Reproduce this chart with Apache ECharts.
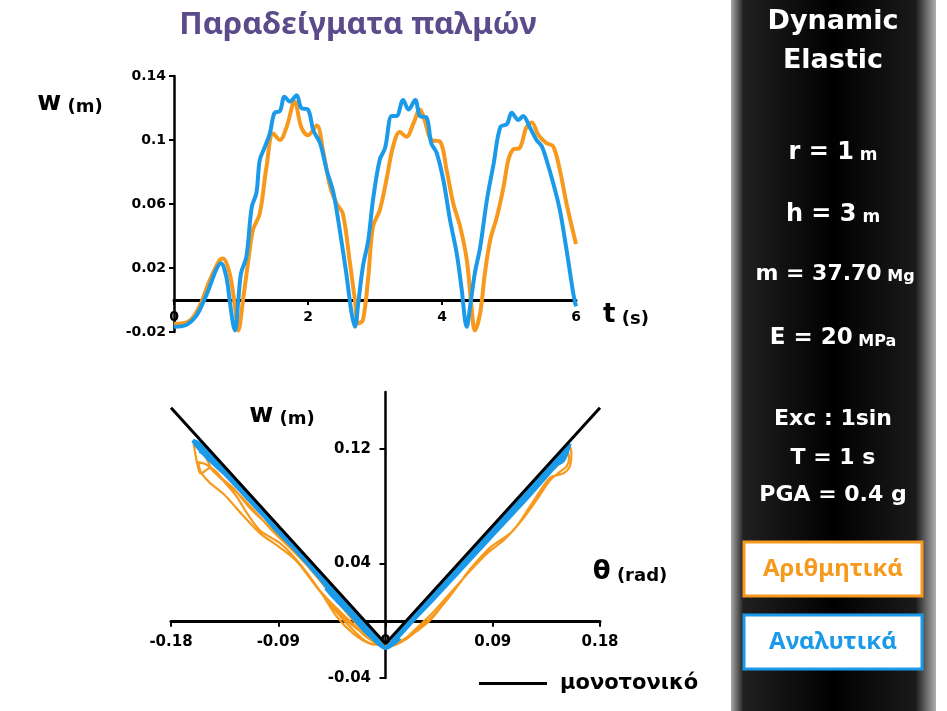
<!DOCTYPE html>
<html>
<head>
<meta charset="utf-8">
<script src="https://cdn.jsdelivr.net/npm/echarts@6/dist/echarts.min.js"></script>
<style>
html,body{margin:0;padding:0;background:#fff;}
#chart{width:947px;height:711px;}
</style>
</head>
<body>
<div id="chart"></div>
<script>
// ---- Top chart: w(t) ----
var tTopOrange = [0,0.23,0.38,0.53,0.68,0.73,0.83,0.91,0.96,1.03,1.11,1.18,1.28,1.38,1.48,1.58,1.68,1.80,1.90,2.0,2.13,2.23,2.33,2.43,2.52,2.62,2.70,2.75,2.82,2.90,2.97,3.07,3.17,3.27,3.37,3.47,3.57,3.67,3.74,3.84,3.97,4.07,4.17,4.27,4.37,4.44,4.49,4.57,4.64,4.72,4.82,4.92,4.99,5.06,5.16,5.26,5.34,5.44,5.56,5.66,5.76,5.86,6.0];
var wTopOrange = [-0.015,-0.013,-0.004,0.012,0.025,0.026,0.0167,-0.004,-0.019,0,0.025,0.044,0.054,0.083,0.104,0.10,0.108,0.124,0.108,0.103,0.109,0.092,0.071,0.060,0.054,0.025,0,-0.0146,-0.0125,0.0146,0.046,0.056,0.075,0.096,0.105,0.102,0.110,0.119,0.1125,0.10,0.099,0.081,0.060,0.046,0.025,-0.004,-0.019,-0.008,0.0167,0.0375,0.052,0.071,0.0875,0.094,0.095,0.108,0.111,0.103,0.098,0.096,0.081,0.060,0.035];
var tTopBlue = [0,0.18,0.33,0.43,0.53,0.63,0.70,0.78,0.83,0.88,0.91,0.96,1.0,1.08,1.16,1.23,1.28,1.35,1.43,1.50,1.58,1.65,1.73,1.83,1.90,2.0,2.08,2.18,2.28,2.38,2.48,2.57,2.65,2.70,2.75,2.82,2.90,2.97,3.07,3.15,3.25,3.32,3.42,3.50,3.60,3.67,3.77,3.84,3.92,4.02,4.12,4.22,4.29,4.37,4.42,4.49,4.57,4.67,4.77,4.87,4.97,5.04,5.14,5.21,5.31,5.41,5.49,5.56,5.66,5.76,5.86,5.96,6.0];
var wTopBlue = [-0.0167,-0.0156,-0.010,-0.002,0.008,0.019,0.023,0.0146,0,-0.0146,-0.019,0,0.0167,0.027,0.058,0.067,0.0875,0.095,0.104,0.117,0.118,0.127,0.124,0.128,0.120,0.119,0.106,0.098,0.081,0.067,0.042,0.017,-0.008,-0.0167,-0.002,0.021,0.0375,0.0625,0.0875,0.095,0.115,0.115,0.125,0.119,0.125,0.115,0.114,0.098,0.092,0.075,0.05,0.029,0.008,-0.0167,-0.004,0.0167,0.033,0.0625,0.085,0.108,0.11,0.117,0.1125,0.115,0.108,0.10,0.096,0.0875,0.073,0.056,0.031,0.004,-0.004];

// ---- Bottom chart: w(theta) ----
var thOrange = [0,-0.02,-0.04,-0.05,-0.055,-0.045,-0.03,-0.015,0,
 0.015,0.025,0.037,0.051,0.062,0.071,0.0875,0.107,0.121,0.132,0.139,0.149,0.1545,0.156,0.154,
 0.146,0.13,0.115,0.10,0.085,0.07,0.055,0.04,0.025,0.012,0,
 -0.013,-0.027,-0.041,-0.055,-0.072,-0.088,-0.105,-0.116,-0.125,-0.133,-0.147,-0.155,-0.158,-0.161,
 -0.152,-0.145,-0.138,-0.128,-0.115,-0.10,-0.085,-0.07,-0.055,-0.04,-0.025,-0.012,0,
 0.013,0.025,0.04,0.055,0.07,0.085,0.10,0.115,0.128,0.138,0.146,0.152,0.154,0.152,
 0.142,0.128,0.112,0.095,0.08,0.065,0.05,0.035,0.02,0.008,0,
 -0.015,-0.03,-0.045,-0.06,-0.075,-0.09,-0.105,-0.12,-0.135,-0.148,-0.155,-0.157,
 -0.150,-0.14,-0.125,-0.11,-0.095,-0.08,-0.065,-0.05,-0.035,-0.02,-0.008,0,
 0.013,0.025,0.037,0.05,0.062];
var wOrange = [-0.016,-0.008,0.006,0.016,0.021,0.012,0.0,-0.012,-0.018,
 -0.014,-0.008,0.0,0.0143,0.026,0.036,0.051,0.063,0.0796,0.0936,0.1006,0.103,0.1076,0.117,0.123,
 0.110,0.099,0.085,0.070,0.058,0.046,0.030,0.015,0.002,-0.010,-0.017,
 -0.016,-0.009,0.003,0.021,0.040,0.054,0.063,0.075,0.087,0.095,0.107,0.103,0.110,0.124,
 0.116,0.105,0.100,0.093,0.080,0.068,0.057,0.045,0.030,0.014,0.000,-0.011,-0.018,
 -0.015,-0.006,0.006,0.020,0.034,0.047,0.057,0.071,0.086,0.098,0.104,0.108,0.114,0.119,
 0.110,0.097,0.083,0.067,0.054,0.040,0.026,0.011,-0.003,-0.013,-0.017,
 -0.015,-0.004,0.010,0.026,0.042,0.052,0.061,0.074,0.088,0.097,0.104,0.111,
 0.109,0.101,0.090,0.077,0.063,0.051,0.038,0.023,0.008,-0.006,-0.014,-0.017,
 -0.014,-0.007,0.001,0.013,0.026];
var thBlue = [0,-0.015,-0.03,-0.045,-0.05,-0.04,-0.025,-0.01,0,
 0.012,0.025,0.04,0.06,0.08,0.10,0.12,0.14,0.15,0.1545,
 0.149,0.14,0.12,0.10,0.08,0.06,0.04,0.02,0.008,0,
 -0.012,-0.025,-0.04,-0.055,-0.07,-0.09,-0.11,-0.13,-0.147,-0.158,-0.1615,
 -0.155,-0.14,-0.12,-0.10,-0.08,-0.06,-0.04,-0.02,-0.008,0,
 0.013,0.03,0.05,0.07,0.09,0.11,0.13,0.145,0.152,
 0.14,0.12,0.10,0.08,0.06,0.04,0.02,0,
 -0.015,-0.035,-0.055,-0.075,-0.095,-0.115,-0.135,-0.15,-0.156,
 -0.145,-0.125,-0.105,-0.085,-0.065,-0.045,-0.025,-0.01,0,
 0.012];
var wBlue = [-0.019,-0.009,0.005,0.018,0.023,0.015,0.001,-0.012,-0.019,
 -0.010,0.002,0.015,0.033,0.051,0.069,0.087,0.106,0.116,0.124,
 0.112,0.108,0.090,0.072,0.054,0.036,0.018,0.000,-0.012,-0.019,
 -0.011,0.001,0.014,0.030,0.045,0.062,0.081,0.099,0.112,0.122,0.126,
 0.123,0.110,0.092,0.073,0.056,0.038,0.018,0.000,-0.012,-0.019,
 -0.009,0.007,0.026,0.044,0.062,0.080,0.099,0.112,0.120,
 0.110,0.091,0.073,0.055,0.037,0.018,0.001,-0.019,
 -0.008,0.011,0.030,0.049,0.067,0.085,0.103,0.115,0.119,
 0.113,0.096,0.078,0.060,0.042,0.023,0.004,-0.011,-0.019,
 -0.012];
var thMono = [-0.18,0,0.18];
var wMono = [0.149,-0.016,0.149];

// ticks / labels
var topXTicks = {min:0,max:6,interval:2};
var topYTicks = {min:-0.02,max:0.14,interval:0.04};
var botXTicks = {min:-0.18,max:0.18,interval:0.09};
var botYTicks = {min:-0.04,max:0.16,interval:0.08};
var botYTickValues = [-0.04,0.04,0.12];

function zip(a,b){var r=[];for(var i=0;i<Math.min(a.length,b.length);i++){r.push([a[i],b[i]]);}return r;}

var ORANGE='#F7991C', BLUE='#1C9AEA';
var LBL = {fontFamily:'DejaVu Sans',fontWeight:'bold',color:'#000'};

var chart = echarts.init(document.getElementById('chart'), null, {renderer:'canvas'});

function txt(x,y,text,font,fill){
  return {type:'text',z:100,style:{text:text,x:x,y:y,font:font,fill:fill,align:'center',verticalAlign:'middle',textAlign:'center',textVerticalAlign:'middle'}};
}
function rich(x,y,a,b,sa,sb,fill){
  return {type:'text',z:100,style:{text:'{a|'+a+'}{b| '+b+'}',x:x,y:y,align:'center',verticalAlign:'middle',textAlign:'center',textVerticalAlign:'middle',
    rich:{a:{fontFamily:'DejaVu Sans',fontWeight:'bold',fontSize:sa,fill:fill,verticalAlign:'bottom',lineHeight:sa*1.2},
          b:{fontFamily:'DejaVu Sans',fontWeight:'bold',fontSize:sb,fill:fill,verticalAlign:'bottom',lineHeight:sa*1.2}}}};
}

var option = {
  backgroundColor:'#fff',
  animation:false,
  grid:[
    {left:174,top:76,width:402,height:256},
    {left:171,top:392,width:429,height:286}
  ],
  xAxis:[
    {gridIndex:0,type:'value',min:topXTicks.min,max:topXTicks.max,interval:topXTicks.interval,
     axisLine:{onZero:true,lineStyle:{color:'#000',width:3}},
     axisTick:{show:true,length:5,lineStyle:{color:'#000',width:2}},
     axisLabel:Object.assign({fontSize:14,margin:-22},LBL),splitLine:{show:false}},
    {gridIndex:1,type:'value',min:botXTicks.min,max:botXTicks.max,interval:botXTicks.interval,
     axisLine:{onZero:true,lineStyle:{color:'#000',width:3}},
     axisTick:{show:true,length:6,lineStyle:{color:'#000',width:2}},
     axisLabel:Object.assign({fontSize:15,margin:-43},LBL),splitLine:{show:false}}
  ],
  yAxis:[
    {gridIndex:0,type:'value',min:topYTicks.min,max:topYTicks.max,interval:topYTicks.interval,
     axisLine:{show:true,onZero:false,lineStyle:{color:'#000',width:2.5}},
     axisTick:{show:true,length:5,lineStyle:{color:'#000',width:2}},
     axisLabel:Object.assign({fontSize:14,margin:8},LBL),splitLine:{show:false}},
    {gridIndex:1,type:'value',min:botYTicks.min,max:botYTicks.max,interval:botYTicks.interval,
     axisLine:{show:true,onZero:true,lineStyle:{color:'#000',width:2.5}},
     axisTick:{show:true,length:6,customValues:botYTickValues,lineStyle:{color:'#000',width:2}},
     axisLabel:Object.assign({fontSize:15,margin:-200,showMaxLabel:false},LBL),splitLine:{show:false}}
  ],
  legend:{
    show:true,left:479,top:673,padding:0,icon:'rect',itemWidth:68,itemHeight:3,selectedMode:false,
    data:[{name:'μονοτονικό'}],
    textStyle:{fontFamily:'DejaVu Sans',fontWeight:'bold',fontSize:21,color:'#000',padding:[0,0,0,8]}
  },
  series:[
    {name:'Αριθμητικά (t)',type:'line',xAxisIndex:0,yAxisIndex:0,data:zip(tTopOrange,wTopOrange),
     smooth:0.35,showSymbol:false,lineStyle:{color:ORANGE,width:4},itemStyle:{color:ORANGE},z:2},
    {name:'Αναλυτικά (t)',type:'line',xAxisIndex:0,yAxisIndex:0,data:zip(tTopBlue,wTopBlue),
     smooth:0.35,showSymbol:false,lineStyle:{color:BLUE,width:4},itemStyle:{color:BLUE},z:3},
    {name:'Αριθμητικά (θ)',type:'line',xAxisIndex:1,yAxisIndex:1,data:zip(thOrange,wOrange),
     smooth:0.3,showSymbol:false,lineStyle:{color:ORANGE,width:2.2},itemStyle:{color:ORANGE},z:2},
    {name:'Αναλυτικά (θ)',type:'line',xAxisIndex:1,yAxisIndex:1,data:zip(thBlue,wBlue),
     smooth:0.3,showSymbol:false,lineStyle:{color:BLUE,width:4},itemStyle:{color:BLUE},z:3},
    {name:'μονοτονικό',type:'line',xAxisIndex:1,yAxisIndex:1,data:zip(thMono,wMono),
     showSymbol:false,lineStyle:{color:'#000',width:3},itemStyle:{color:'#000'},z:4}
  ],
  graphic:[
    {type:'rect',z:50,shape:{x:731,y:0,width:205,height:711},
     style:{fill:new echarts.graphic.LinearGradient(0,0,1,0,[
       {offset:0,color:'#a8a8a8'},{offset:0.06,color:'#202020'},{offset:0.5,color:'#000'},
       {offset:0.9,color:'#1a1a1a'},{offset:1,color:'#b0b0b0'}])}},
    txt(358,25,'Παραδείγματα παλμών','bold 31px "Noto Sans"','#5B4B8A'),
    rich(70,101,'w','(m)',26,18,'#000'),
    rich(626,313,'t','(s)',26,18,'#000'),
    rich(282,413,'w','(m)',26,18,'#000'),
    rich(630,570,'θ','(rad)',26,18,'#000'),
    txt(833,22,'Dynamic','bold 27px "DejaVu Sans"','#fff'),
    txt(833,61,'Elastic','bold 27px "DejaVu Sans"','#fff'),
    rich(833,150,'r = 1','m',24,17,'#fff'),
    rich(833,212,'h = 3','m',24,17,'#fff'),
    rich(835,272,'m = 37.70','Mg',22,16,'#fff'),
    rich(833,336,'E = 20','MPa',23,16,'#fff'),
    txt(833,419,'Exc : 1sin','bold 22px "DejaVu Sans"','#fff'),
    txt(833,458,'T = 1 s','bold 22px "DejaVu Sans"','#fff'),
    txt(833,495,'PGA = 0.4 g','bold 22px "DejaVu Sans"','#fff'),
    {type:'rect',z:60,shape:{x:744,y:542,width:178,height:54},style:{fill:'#fff',stroke:ORANGE,lineWidth:3}},
    txt(833,569,'Αριθμητικά','bold 24px "Noto Sans"',ORANGE),
    {type:'rect',z:60,shape:{x:744,y:615,width:178,height:54},style:{fill:'#fff',stroke:BLUE,lineWidth:3}},
    txt(833,642,'Αναλυτικά','bold 24px "Noto Sans"',BLUE)
  ]
};
chart.setOption(option);
</script>
</body>
</html>
